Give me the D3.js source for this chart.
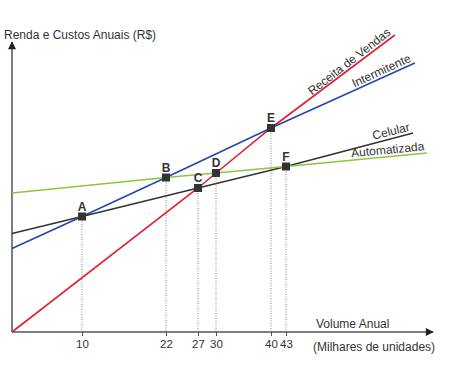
<!DOCTYPE html>
<html>
<head>
<meta charset="utf-8">
<script src="https://d3js.org/d3.v7.min.js"></script>
<style>
  body { margin: 0; background: #fff; }
  svg { display: block; font-family: "Liberation Sans", Arial, sans-serif; }
</style>
</head>
<body>
<svg width="471" height="378"></svg>
<script>
// break-even chart (schematic)

var xTicks = [10, 22, 27, 30, 40, 43];
var xMax = 60;
var yMax = 580;

var pointNames = ["A", "B", "C", "D", "E", "F"];
var pointX = [10, 22, 27, 30, 40, 43];
var pointY = [231, 309, 288, 318, 408, 331];

var seriesNames = ["Receita de Vendas", "Intermitente", "Celular", "Automatizada"];
var receitaX = [0, 27, 30, 40, 55.6];
var receitaY = [0, 288, 318, 408, 594];
var intermitenteX = [0, 10, 22, 40, 57.9];
var intermitenteY = [167, 231, 309, 408, 538];
var celularX = [0, 10, 27, 43, 57.7];
var celularY = [197, 231, 288, 331, 398];
var automatizadaX = [0, 22, 30, 43, 59.3];
var automatizadaY = [278, 309, 318, 331, 358];

var seriesColors = ["#e3202c", "#2347b0", "#333333", "#8cc63f"];

var svg = d3.select("svg");

// the axis in the original is not to scale, so the scale is piecewise
var x = d3.scaleLinear()
    .domain([0].concat(xTicks, [xMax]))
    .range([12, 82, 166, 198, 216, 271, 286, 433]);

var y = d3.scaleLinear()
    .domain([0, yMax])
    .range([332, 42]);

var defs = svg.append("defs");
defs.append("marker")
    .attr("id", "arrow")
    .attr("viewBox", "0 0 10 10")
    .attr("refX", 9).attr("refY", 5)
    .attr("markerWidth", 10).attr("markerHeight", 8)
    .attr("markerUnits", "userSpaceOnUse")
    .attr("orient", "auto")
  .append("path")
    .attr("d", "M0,0L10,5L0,10Z")
    .attr("fill", "#222");

// guide lines from each point down to the axis
svg.append("g").selectAll("line")
    .data(pointX.map(function(d, i) { return { x: d, y: pointY[i] }; }))
  .enter().append("line")
    .attr("x1", function(d) { return x(d.x); })
    .attr("x2", function(d) { return x(d.x); })
    .attr("y1", function(d) { return y(d.y); })
    .attr("y2", y(0))
    .attr("stroke", "#888")
    .attr("stroke-width", 1)
    .attr("stroke-dasharray", "1,1.5");

// axes
svg.append("line")
    .attr("x1", x(0)).attr("x2", x(xMax))
    .attr("y1", y(0)).attr("y2", y(0))
    .attr("stroke", "#555").attr("stroke-width", 1.5)
    .attr("marker-end", "url(#arrow)");

svg.append("line")
    .attr("x1", x(0)).attr("x2", x(0))
    .attr("y1", y(0)).attr("y2", y(yMax))
    .attr("stroke", "#555").attr("stroke-width", 1.5)
    .attr("marker-end", "url(#arrow)");

var xAxis = d3.axisBottom(x)
    .tickValues(xTicks)
    .tickSize(4)
    .tickSizeOuter(0)
    .tickPadding(4)
    .tickFormat(d3.format("d"));

var gx = svg.append("g")
    .attr("transform", "translate(0," + y(0) + ")")
    .call(xAxis);
gx.select(".domain").remove();
gx.selectAll(".tick line").attr("stroke", "#555");
gx.selectAll(".tick text")
    .attr("font-family", "Liberation Sans, Arial, sans-serif")
    .attr("font-size", 11.5)
    .attr("fill", "#333");

// lines
var seriesX = [receitaX, intermitenteX, celularX, automatizadaX];
var seriesY = [receitaY, intermitenteY, celularY, automatizadaY];

var line = d3.line()
    .x(function(d) { return x(d[0]); })
    .y(function(d) { return y(d[1]); });

seriesNames.forEach(function(name, i) {
  var pts = seriesX[i].map(function(d, j) { return [d, seriesY[i][j]]; });
  svg.append("path")
      .datum(pts)
      .attr("d", line)
      .attr("fill", "none")
      .attr("stroke", seriesColors[i])
      .attr("stroke-width", 1.6);

  var p0 = pts[0], p1 = pts[pts.length - 1];
  var angle = Math.atan2(y(p1[1]) - y(p0[1]), x(p1[0]) - x(p0[0])) * 180 / Math.PI;
  svg.append("text")
      .attr("transform", "translate(" + x(p1[0]) + "," + y(p1[1]) + ") rotate(" + angle + ")")
      .attr("x", -2)
      .attr("y", -3)
      .attr("text-anchor", "end")
      .attr("font-size", 12)
      .attr("fill", "#333")
      .text(name);
});

// points
var pts = svg.append("g").selectAll("g")
    .data(pointNames.map(function(d, i) { return { name: d, x: pointX[i], y: pointY[i] }; }))
  .enter().append("g")
    .attr("transform", function(d) { return "translate(" + x(d.x) + "," + y(d.y) + ")"; });

pts.append("rect")
    .attr("x", -4).attr("y", -4)
    .attr("width", 8).attr("height", 8)
    .attr("fill", "#333");

pts.append("text")
    .attr("y", -6)
    .attr("text-anchor", "middle")
    .attr("font-size", 12)
    .attr("font-weight", "bold")
    .attr("fill", "#333")
    .text(function(d) { return d.name; });

// titles
svg.append("text")
    .attr("x", 4).attr("y", 39)
    .attr("font-size", 12)
    .attr("fill", "#333")
    .text("Renda e Custos Anuais (R$)");

svg.append("text")
    .attr("x", 316).attr("y", 328)
    .attr("font-size", 12)
    .attr("fill", "#333")
    .text("Volume Anual");

svg.append("text")
    .attr("x", 313).attr("y", 351)
    .attr("font-size", 12)
    .attr("fill", "#333")
    .text("(Milhares de unidades)");
</script>
</body>
</html>
